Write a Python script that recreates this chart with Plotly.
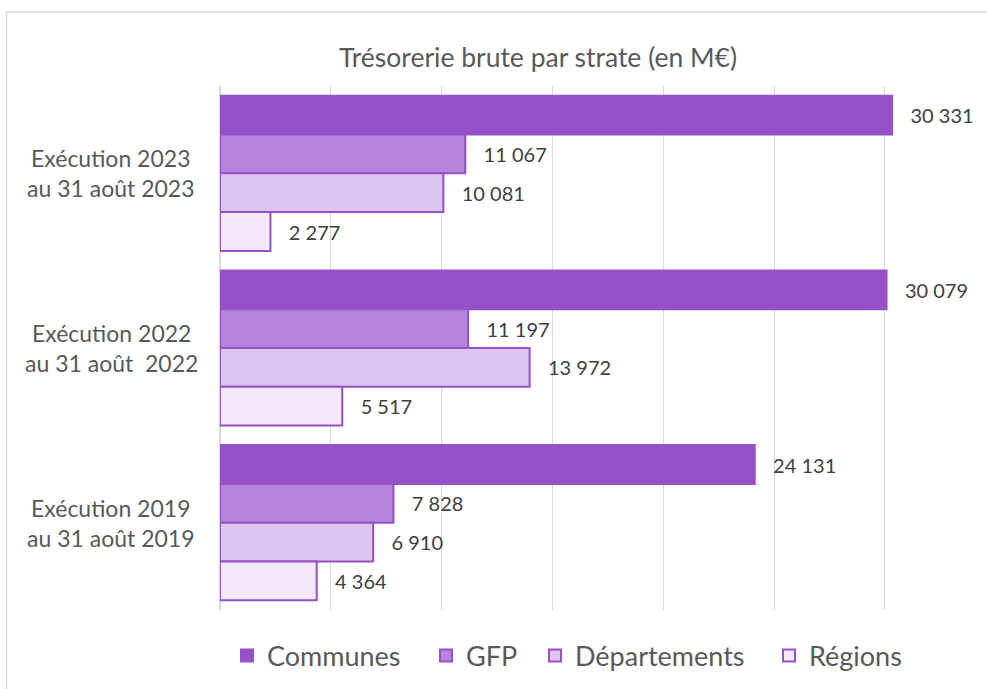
import plotly.graph_objects as go

categories = ["Exécution 2023<br>au 31 août 2023", "Exécution 2022<br>au 31 août  2022", "Exécution 2019<br>au 31 août 2019"]
series_names = ["Communes", "GFP", "Départements", "Régions"]
communes = [30331, 30079, 24131]
gfp = [11067, 11197, 7828]
departements = [10081, 13972, 6910]
regions = [2277, 5517, 4364]
x_ticks = [0, 5000, 10000, 15000, 20000, 25000, 30000, 35000]

series_values = [communes, gfp, departements, regions]
fills = ["#9650C8", "#B384DA", "#DCC5EE", "#F4E9FA"]
border = "#9650C8"

W, H = 987, 689
L, R, T, B = 220, 0, 86, 79
pw = W - L - R
ph = H - T - B
px_per_unit = 110.8 / 5000
xmax = pw / px_per_unit

FONT = "Lato"
GREY = "#595959"

# legend marker centres (px) in the reference layout
legend_marker_px = [248, 447, 556, 790]
legend_ids = ["legend", "legend2", "legend3", "legend4"]

def fmt(v):
    return "\u00a0\u00a0\u00a0" + f"{v:,}".replace(",", " ")

fig = go.Figure()
for name, vals, fc, lid in zip(series_names, series_values, fills, legend_ids):
    fig.add_trace(go.Bar(
        y=categories, x=vals, name=name, orientation="h",
        marker=dict(color=fc, line=dict(color=border, width=2)),
        text=[fmt(v) for v in vals], textposition="outside",
        textfont=dict(family=FONT, size=20, color="#404040"),
        constraintext="none", cliponaxis=False,
        hoverinfo="skip", legend=lid,
    ))

annotations = []
for label in categories:
    annotations.append(dict(
        x=(111 - L) / pw, xref="paper", y=label, yref="y",
        text=label, showarrow=False, xanchor="center", yanchor="middle",
        font=dict(family=FONT, size=23, color=GREY), align="center",
    ))

shapes = [dict(type="rect", xref="paper", yref="paper",
               x0=(6.5 - L) / pw, x1=1.05, y0=-0.3, y1=(H - B - 12) / ph,
               line=dict(color="#D9D9D9", width=1.5), fillcolor="rgba(0,0,0,0)", layer="below")]

legend_layout = {}
for lid, mx in zip(legend_ids, legend_marker_px):
    legend_layout[lid] = dict(
        orientation="h", x=(mx - 21 - 20 + 20 - L) / pw, xanchor="left",
        y=(H - B - 656) / ph, yanchor="middle", bgcolor="rgba(0,0,0,0)",
        font=dict(family=FONT, size=27, color=GREY),
    )

fig.update_layout(
    width=W, height=H,
    margin=dict(l=L, r=R, t=T, b=B, autoexpand=False),
    paper_bgcolor="white", plot_bgcolor="white",
    barmode="group", bargap=0.112, bargroupgap=0,
    title=dict(text="Trésorerie brute par strate (en M€)", x=(538) / W, xanchor="center",
               y=1 - 58 / H, yanchor="middle",
               font=dict(family=FONT, size=26.5, color=GREY)),
    xaxis=dict(range=[0, xmax], tickvals=x_ticks, showticklabels=False,
               showgrid=True, gridcolor="#D9D9D9", gridwidth=1,
               zeroline=True, zerolinecolor="#D9D9D9", zerolinewidth=1.5,
               showline=False, fixedrange=True),
    yaxis=dict(type="category", autorange="reversed", showticklabels=False, showgrid=False,
               zeroline=False, showline=False, fixedrange=True),
    annotations=annotations, shapes=shapes,
    showlegend=True,
    **legend_layout,
)

fig.write_html("out.html", config={"displayModeBar": False},
               post_script="document.body.style.margin='0';")
